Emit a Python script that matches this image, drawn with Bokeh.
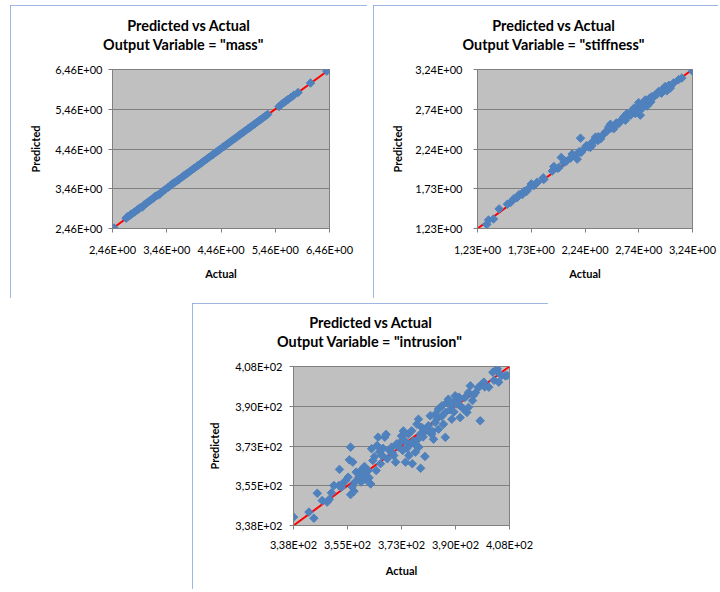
import math
from bokeh.plotting import figure
from bokeh.models import Range1d, FixedTicker, Title, Spacer
from bokeh.layouts import row, column
from bokeh.embed import file_html
from bokeh.resources import INLINE

# ---------------- data ----------------
mass_ticks = [2.46, 3.46, 4.46, 5.46, 6.46]
mass_tick_labels = ["2,46E+00", "3,46E+00", "4,46E+00", "5,46E+00", "6,46E+00"]
mass_actual = [2.49, 2.71, 2.73, 2.75, 2.78, 2.80, 2.82, 2.85, 2.88, 2.91, 2.94, 2.97, 3.01, 3.04,
               3.08, 3.11, 3.15, 3.18, 3.22, 3.25, 3.29, 3.33, 3.36, 3.40, 3.44, 3.48, 3.52, 3.55,
               3.58, 3.61, 3.65, 3.69, 3.73, 3.77, 3.80, 3.84, 3.88, 3.92, 3.96, 4.00, 4.04, 4.08,
               4.12, 4.16, 4.20, 4.24, 4.28, 4.32, 4.36, 4.40, 4.44, 4.48, 4.52, 4.56, 4.60, 4.64,
               4.68, 4.72, 4.76, 4.80, 4.84, 4.88, 4.92, 4.96, 5.00, 5.04, 5.08, 5.12, 5.16, 5.20,
               5.24, 5.28, 5.32, 5.53, 5.58, 5.62, 5.66, 5.70, 5.75, 5.80, 5.88, 6.11, 6.41]
mass_predicted = [2.47, 2.72, 2.75, 2.76, 2.79, 2.82, 2.83, 2.86, 2.89, 2.92, 2.95, 2.98, 3.00, 3.05,
                  3.09, 3.12, 3.16, 3.19, 3.23, 3.27, 3.30, 3.32, 3.37, 3.41, 3.45, 3.49, 3.53, 3.57,
                  3.60, 3.62, 3.66, 3.70, 3.74, 3.78, 3.81, 3.85, 3.89, 3.93, 3.97, 4.01, 4.05, 4.09,
                  4.13, 4.17, 4.21, 4.25, 4.29, 4.33, 4.37, 4.41, 4.45, 4.49, 4.53, 4.57, 4.61, 4.65,
                  4.69, 4.73, 4.77, 4.81, 4.85, 4.89, 4.93, 4.97, 5.01, 5.05, 5.09, 5.13, 5.17, 5.21,
                  5.25, 5.29, 5.33, 5.53, 5.59, 5.63, 5.67, 5.71, 5.76, 5.81, 5.88, 6.12, 6.42]

stiff_ticks = [1.23, 1.7325, 2.235, 2.7375, 3.24]
stiff_tick_labels = ["1,23E+00", "1,73E+00", "2,24E+00", "2,74E+00", "3,24E+00"]
stiff_actual = [1.317, 1.333, 1.379, 1.432, 1.510, 1.54, 1.570, 1.60, 1.618, 1.65, 1.665, 1.69,
                1.711, 1.733, 1.758, 1.78, 1.789, 1.845, 1.85, 1.929, 1.944, 1.98, 1.991, 2.013,
                2.038, 2.06, 2.10, 2.115, 2.146, 2.162, 2.18, 2.193, 2.199, 2.22, 2.249, 2.27,
                2.286, 2.30, 2.302, 2.333, 2.355, 2.36, 2.380, 2.40, 2.426, 2.44, 2.457, 2.473,
                2.48, 2.504, 2.52, 2.529, 2.550, 2.56, 2.581, 2.597, 2.60, 2.612, 2.628, 2.643,
                2.66, 2.675, 2.690, 2.70, 2.706, 2.721, 2.737, 2.74, 2.752, 2.768, 2.78, 2.783,
                2.799, 2.815, 2.82, 2.839, 2.85, 2.861, 2.88, 2.892, 2.91, 2.923, 2.95, 2.955,
                2.98, 2.986, 3.00, 3.02, 3.032, 3.063, 3.110, 3.141, 3.240]
stiff_predicted = [1.281, 1.337, 1.350, 1.478, 1.538, 1.56, 1.606, 1.62, 1.658, 1.66, 1.700, 1.70,
                   1.743, 1.794, 1.773, 1.80, 1.816, 1.871, 1.85, 1.957, 2.013, 1.99, 2.000, 2.128,
                   2.064, 2.08, 2.12, 2.171, 2.149, 2.107, 2.20, 2.372, 2.192, 2.23, 2.278, 2.26,
                   2.256, 2.28, 2.320, 2.385, 2.342, 2.39, 2.363, 2.41, 2.449, 2.46, 2.513, 2.547,
                   2.50, 2.492, 2.54, 2.564, 2.556, 2.58, 2.607, 2.641, 2.62, 2.598, 2.684, 2.663,
                   2.66, 2.705, 2.748, 2.72, 2.684, 2.770, 2.821, 2.76, 2.663, 2.748, 2.79, 2.812,
                   2.855, 2.778, 2.84, 2.876, 2.83, 2.898, 2.90, 2.919, 2.93, 2.962, 2.94, 2.983,
                   3.00, 3.026, 2.97, 3.04, 3.005, 3.069, 3.112, 3.133, 3.219]

intr_ticks = [338.0, 355.5, 373.0, 390.5, 408.0]
intr_tick_labels = ["3,38E+02", "3,55E+02", "3,73E+02", "3,90E+02", "4,08E+02"]
intr_actual = [338.0, 343.0, 344.6, 345.7, 347.3, 348.9, 349.6, 350.3, 351.1, 352.9, 352.7, 353.5,
               354.0, 354.9, 355.7, 356.5, 356.1, 357.2, 356.5, 357.6, 357.0, 358.3, 359.2, 357.9,
               359.9, 360.8, 361.5, 362.2, 363.0, 363.3, 363.7, 364.3, 364.8, 365.1, 365.4, 366.2,
               366.7, 367.6, 368.0, 368.4, 369.1, 369.8, 370.5, 371.1, 372.1, 372.7, 373.4, 374.3,
               375.4, 376.5, 377.5, 378.6, 379.2, 380.6, 373.0, 373.6, 374.1, 375.2, 376.3, 376.9,
               377.4, 378.0, 378.5, 379.1, 379.6, 380.7, 381.7, 382.3, 382.8, 383.4, 383.9, 385.0,
               385.0, 386.1, 386.6, 387.2, 387.2, 387.7, 388.2, 388.7, 389.3, 390.4, 390.5, 391.6,
               392.0, 392.0, 392.0, 393.1, 393.6, 394.2, 394.7, 394.7, 395.3, 396.3, 397.9, 398.1,
               398.5, 399.0, 399.7, 401.3, 402.6, 403.0, 404.0, 404.4, 404.5, 405.4, 406.6, 407.2,
               360.0, 361.0, 362.5, 366.0, 367.0, 370.0, 371.5, 374.8, 376.0, 378.0, 380.0, 381.5,
               384.5, 386.0, 389.5, 390.0, 391.0, 396.0, 397.0, 400.0, 383.0, 384.0]
intr_predicted = [341.7, 343.9, 341.2, 352.2, 349.0, 348.3, 349.5, 352.4, 355.6, 362.7, 355.6, 354.8,
                  356.6, 357.8, 359.3, 372.5, 366.9, 365.9, 351.6, 353.1, 355.0, 361.5, 359.3, 357.1,
                  357.1, 360.3, 358.2, 362.2, 356.3, 371.8, 366.6, 368.4, 362.2, 373.2, 376.9, 365.2,
                  368.8, 376.9, 378.1, 367.4, 371.0, 372.5, 368.8, 365.9, 372.5, 374.7, 371.0, 365.9,
                  368.8, 365.2, 370.3, 372.5, 363.2, 368.4, 377.4, 379.6, 375.2, 378.2, 379.7, 375.2,
                  373.7, 382.6, 384.8, 378.2, 381.1, 379.6, 381.9, 386.3, 378.2, 376.0, 383.4, 389.3,
                  380.4, 390.7, 382.6, 387.8, 376.8, 392.1, 393.6, 389.0, 384.8, 395.1, 393.0, 394.5,
                  393.7, 390.7, 385.5, 389.3, 394.4, 387.8, 396.6, 390.0, 399.5, 395.2, 398.8, 398.9,
                  384.1, 400.2, 401.1, 398.9, 405.5, 401.9, 407.0, 405.4, 401.1, 404.0, 403.9, 404.0,
                  362.5, 364.0, 359.0, 370.5, 372.0, 370.0, 374.0, 372.0, 374.0, 375.5, 377.0, 380.0,
                  385.0, 386.0, 391.0, 388.0, 391.5, 393.0, 396.5, 399.0, 379.5, 387.0]

FONT = "Lato"
BLUE = "#4F81BD"
PANEL_BORDER = "#7DA2D8"


def make_panel(name, actual, predicted, ticks, tick_labels, w, h, mb, title_offsets,
               ytick_standoff, ylab_standoff, xtick_standoff, xlab_standoff, clip):
    lo, hi = ticks[0], ticks[-1]
    p = figure(width=w, height=h, x_range=Range1d(lo, hi), y_range=Range1d(lo, hi),
               output_backend="svg", toolbar_location=None,
               min_border_left=mb[0], min_border_right=mb[1], min_border_top=mb[2], min_border_bottom=mb[3])
    p.background_fill_color = "#C0C0C0"
    p.border_fill_color = "white"
    p.outline_line_color = "#808080"
    p.outline_line_width = 1
    p.xgrid.visible = False
    p.ygrid.ticker = FixedTicker(ticks=ticks)
    p.ygrid.grid_line_color = "#808080"
    p.ygrid.grid_line_width = 1
    overrides = {t: l for t, l in zip(ticks, tick_labels)}
    for ax in (p.xaxis[0], p.yaxis[0]):
        ax.ticker = FixedTicker(ticks=ticks)
        ax.major_label_overrides = overrides
        ax.axis_line_color = "#808080"
        ax.major_tick_line_color = "#808080"
        ax.major_tick_in = 0
        ax.major_tick_out = 4
        ax.minor_tick_line_color = None
        ax.major_label_text_font = FONT
        ax.major_label_text_font_size = "11px"
        ax.major_label_text_color = "#000000"
        ax.axis_label_text_font = FONT
        ax.axis_label_text_font_style = "bold"
        ax.axis_label_text_font_size = "11px"
        ax.axis_label_text_color = "#000000"
    p.xaxis[0].major_label_standoff = xtick_standoff
    p.yaxis[0].major_label_standoff = ytick_standoff
    p.xaxis[0].axis_label = "Actual"
    p.xaxis[0].axis_label_standoff = xlab_standoff
    p.yaxis[0].axis_label = "Predicted"
    p.yaxis[0].axis_label_standoff = ylab_standoff

    # reference line y = x
    p.line([lo, hi], [lo, hi], line_color="#FF0000", line_width=2)
    p.scatter(actual, predicted, marker="square", size=6, angle=math.pi / 4,
              fill_color=BLUE, line_color=BLUE, line_width=1)

    # titles: spacer, line 2, line 1 (first added is nearest the frame)
    p.add_layout(Title(text=" ", text_font_size="1px", standoff=12.5), "above")
    for txt, off in (('Output Variable = "%s"' % name, title_offsets[1]), ("Predicted vs Actual", title_offsets[0])):
        p.add_layout(Title(text=txt, align="left", offset=off, vertical_align="middle", standoff=0,
                           text_font=FONT, text_font_style="bold", text_font_size="14.4px",
                           text_color="#000000"), "above")
    st = {"outline": "2px solid " + PANEL_BORDER, "outline-offset": "-2px"}
    if clip:
        st["clip-path"] = clip
    p.styles = st
    return p


p1 = make_panel("mass", mass_actual, mass_predicted, mass_ticks, mass_tick_labels,
                357, 293, (102, 38, 63, 70), (14.8, -9.4), 6, 10, 10, 8, None)
p2 = make_panel("stiffness", stiff_actual, stiff_predicted, stiff_ticks, stiff_tick_labels,
                347, 293, (104, 28, 64, 70), (14.8, -15), 11, 8, 10, 8, "inset(0 2px 0 0)")
p3 = make_panel("intrusion", intr_actual, intr_predicted, intr_ticks, intr_tick_labels,
                356, 288, (101, 39, 63, 66), (15.8, -16.5), 7, 11, 8, 10, "inset(0 0 2px 0)")

row1 = row(Spacer(width=10, height=293), p1, Spacer(width=6, height=293), p2)
row2 = row(Spacer(width=192, height=288), p3)
layout = column(Spacer(width=720, height=5), row1, Spacer(width=720, height=5), row2)

open("out.html", "w").write(file_html(layout, INLINE))
